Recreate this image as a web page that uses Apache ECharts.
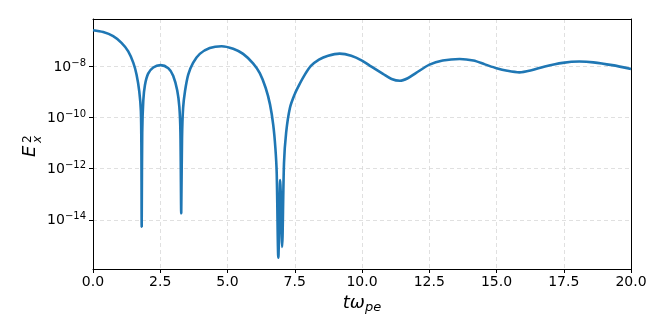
<!DOCTYPE html>
<html>
<head>
<meta charset="utf-8">
<script src="https://cdn.jsdelivr.net/npm/echarts@6/dist/echarts.min.js"></script>
<style>
  html, body { margin: 0; padding: 0; background: #fff; }
  #chart { width: 664px; height: 332px; }
</style>
</head>
<body>
<div id="chart"></div>
<script>
// time axis, t*omega_pe
var tValues = [
  0.00, 0.38, 0.75, 1.06, 1.31, 1.50, 1.62, 1.72, 1.78, 1.80,
  1.81, 1.83, 1.87, 1.93, 2.05, 2.24, 2.51, 2.80, 2.98, 3.13,
  3.21, 3.25, 3.28, 3.31, 3.35, 3.42, 3.54, 3.72, 3.97, 4.34,
  4.78, 5.21, 5.58, 5.95, 6.20, 6.42, 6.58, 6.70, 6.78, 6.83,
  6.89, 6.96, 7.03, 7.10, 7.18, 7.32, 7.50, 7.66, 7.87, 8.10,
  8.40, 8.74, 9.17, 9.60, 10.00, 10.35, 10.78, 11.10, 11.41, 11.70,
  12.00, 12.51, 13.00, 13.63, 14.14, 14.57, 15.00, 15.40, 15.85, 16.30,
  16.80, 17.46, 18.08, 18.60, 19.30, 20.00
];
// log10 of E_x^2
var log10Ex2 = [
  -6.61, -6.68, -6.84, -7.10, -7.43, -7.88, -8.34, -8.99, -9.76, -11.5,
  -14.27, -10.6, -9.35, -8.75, -8.30, -8.06, -7.97, -8.09, -8.38, -8.95,
  -9.60, -10.6, -13.75, -10.8, -9.64, -8.99, -8.34, -7.88, -7.53, -7.30,
  -7.23, -7.33, -7.53, -7.90, -8.28, -8.86, -9.50, -10.30, -11.2, -12.2,
  -15.48, -12.45, -15.06, -11.8, -10.6, -9.64, -9.10, -8.75, -8.35, -8.00,
  -7.75, -7.60, -7.52, -7.60, -7.79, -8.03, -8.31, -8.51, -8.58, -8.48,
  -8.28, -7.95, -7.79, -7.73, -7.79, -7.94, -8.09, -8.19, -8.25, -8.17,
  -8.02, -7.88, -7.83, -7.86, -7.97, -8.12
];
var xTicks = [0, 2.5, 5, 7.5, 10, 12.5, 15, 17.5, 20];
var yTickExps = [-14, -12, -10, -8];

var seriesData = tValues.map(function (t, i) { return [t, log10Ex2[i]]; });

var chart = echarts.init(document.getElementById('chart'));
var font = 'DejaVu Sans';
var gridLine = { show: true, lineStyle: { color: '#d8d8d8', type: [4, 3], width: 0.8 } };
var yMin = -15.92, yMax = -6.17;

var option = {
  animation: false,
  grid: { left: 93, right: 33, top: 19, bottom: 63 },
  xAxis: [{
    type: 'value',
    min: 0, max: 20, interval: 2.5,
    name: '{i|tω}{s|pe}',
    nameLocation: 'middle',
    nameGap: 22,
    nameTextStyle: {
      rich: {
        i: { fontFamily: font, fontStyle: 'italic', fontSize: 18, color: '#000' },
        s: { fontFamily: font, fontStyle: 'italic', fontSize: 13, color: '#000', padding: [9, 0, 0, 0] }
      }
    },
    axisLine: { show: true, lineStyle: { color: '#000', width: 1 } },
    axisTick: { show: true, length: 4, lineStyle: { color: '#000' }, customValues: xTicks },
    axisLabel: {
      customValues: xTicks,
      margin: 6, fontFamily: font, fontSize: 14, color: '#000',
      formatter: function (v) { return v.toFixed(1); }
    },
    splitLine: gridLine
  }, {
    type: 'value', position: 'top',
    min: 0, max: 20,
    axisLine: { show: true, onZero: false, lineStyle: { color: '#000', width: 1 } },
    axisTick: { show: false }, axisLabel: { show: false }, splitLine: { show: false }
  }],
  yAxis: [{
    type: 'value',
    min: yMin, max: yMax,
    axisLine: { show: true, lineStyle: { color: '#000', width: 1 } },
    axisTick: { show: true, length: 4, lineStyle: { color: '#000' }, customValues: yTickExps },
    axisLabel: {
      customValues: yTickExps,
      margin: 7, color: '#000',
      formatter: function (v) { return '{b|10}{s|−' + Math.abs(Math.round(v)) + '}'; },
      rich: {
        b: { fontFamily: font, fontSize: 14, color: '#000', verticalAlign: 'bottom', lineHeight: 16 },
        s: { fontFamily: font, fontSize: 10, color: '#000', verticalAlign: 'top', lineHeight: 16, padding: [0, 0, 8, 0] }
      }
    },
    splitLine: gridLine
  }, {
    type: 'value', position: 'right',
    min: yMin, max: yMax,
    axisLine: { show: true, onZero: false, lineStyle: { color: '#000', width: 1 } },
    axisTick: { show: false }, axisLabel: { show: false }, splitLine: { show: false }
  }],
  graphic: [{
    type: 'group',
    x: 35, y: 157,
    rotation: Math.PI / 2,
    children: [
      { type: 'text', x: 0, y: 4, style: { text: 'E', fontFamily: font, fontStyle: 'italic', fontSize: 18, fill: '#000', verticalAlign: 'bottom' } },
      { type: 'text', x: 14, y: -13, style: { text: '2', fontFamily: font, fontSize: 12, fill: '#000', verticalAlign: 'top' } },
      { type: 'text', x: 14, y: -3, style: { text: 'x', fontFamily: font, fontStyle: 'italic', fontSize: 12, fill: '#000', verticalAlign: 'top' } }
    ]
  }],
  series: [{
    type: 'line',
    xAxisIndex: 0, yAxisIndex: 0,
    data: seriesData,
    showSymbol: false,
    smooth: 0.3,
    lineStyle: { color: '#1f77b4', width: 2.6 },
    itemStyle: { color: '#1f77b4' }
  }]
};
chart.setOption(option);
</script>
</body>
</html>
